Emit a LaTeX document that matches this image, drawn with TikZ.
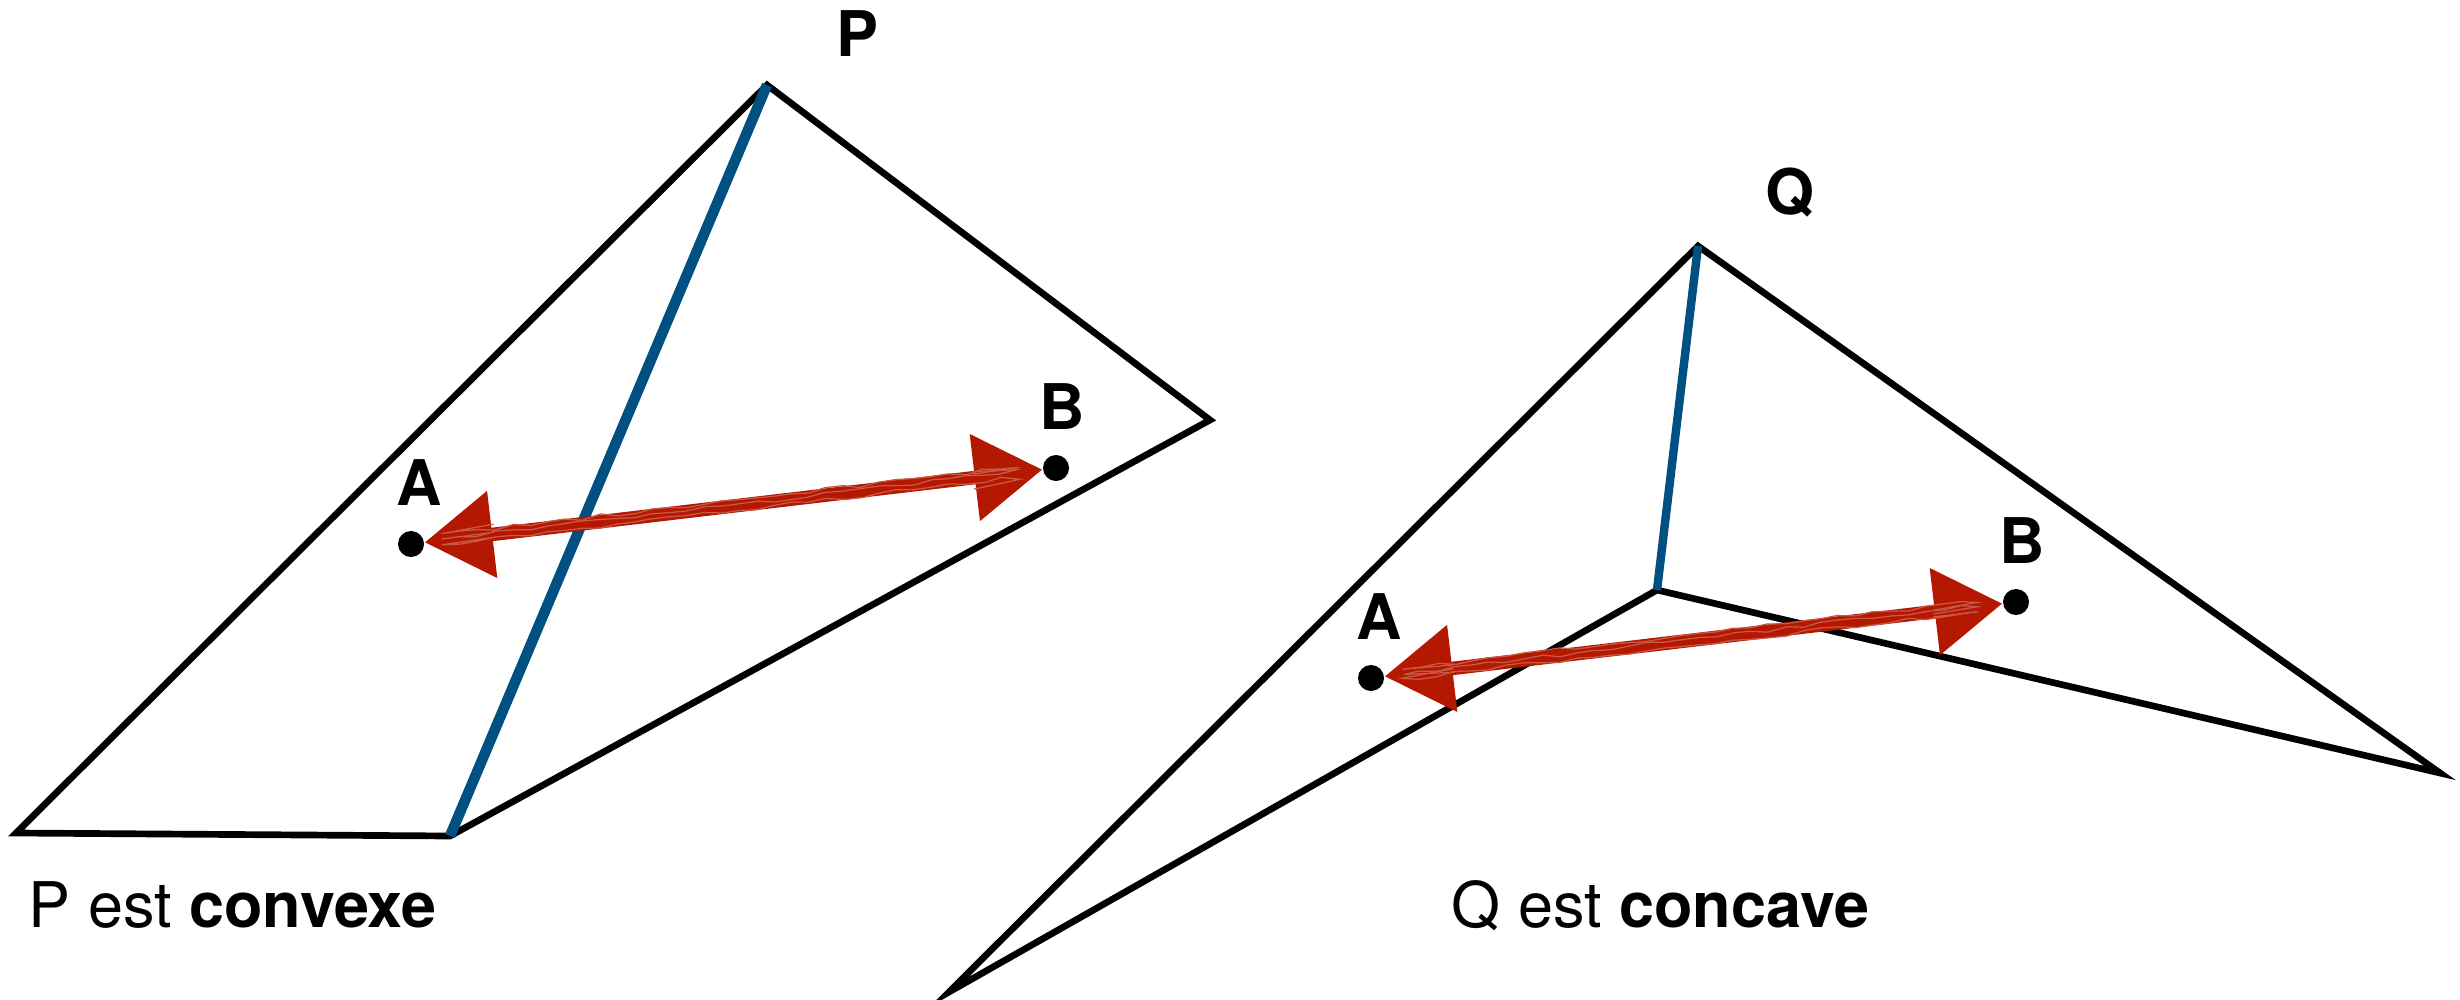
\documentclass[tikz,border=0pt]{standalone}
\usepackage{fontspec}
\setmainfont{TeX Gyre Heros}
\usetikzlibrary{arrows.meta,positioning,calc,decorations.pathmorphing}
\definecolor{diagblue}{RGB}{0,80,130}
\definecolor{sketchred}{RGB}{180,24,0}

\begin{document}
\begin{tikzpicture}[
  x=0.01cm, y=-0.01cm,
  font=\fontsize{17.9}{21}\selectfont,
  edge/.style={draw=black,line width=1.9pt},
  diag/.style={draw=diagblue,line width=3pt},
  dot/.style={circle,fill=black,inner sep=0pt,minimum size=2.6mm},
  ptname/.style={inner sep=0pt,font=\fontsize{17.9}{21}\selectfont\bfseries},
  arr/.style={draw=sketchred,fill=sketchred,line width=1.35mm,
    {Triangle[length=6.8mm,width=8.4mm]}-{Triangle[length=6.8mm,width=8.4mm]}},
  scribble/.style={draw=sketchred!72!white,line width=0.35pt,shorten <=7mm,shorten >=7mm,
    decorate,decoration={random steps,segment length=5pt,amplitude=0.6pt}}
]
  % picture is 2460 x 1000 units, y grows downwards
  \useasboundingbox (0,0) rectangle (2460,1000);
  \pgfmathsetseed{7}

  % convex polygon P
  \coordinate (Ptop) at (767,85);
  \coordinate (Pleft) at (16,833);
  \coordinate (Pbot) at (450,836);
  \coordinate (Pright) at (1210,420);
  \draw[edge] (Pleft) -- (Pbot) -- (Pright) -- (Ptop) -- cycle;
  \draw[diag] (Ptop) -- (Pbot);

  % concave polygon Q
  \coordinate (Qtop) at (1698,246);
  \coordinate (Qleft) at (949,992);
  \coordinate (Qin) at (1657,590);
  \coordinate (Qright) at (2440,773);
  \draw[edge] (Qleft) -- (Qin) -- (Qright) -- (Qtop) -- cycle;
  \draw[diag,line width=2.4pt] (Qtop) -- (Qin);

  \node[ptname,anchor=base] (nP) at ($(Ptop)+(90,-28)$) {P};
  \node[ptname,anchor=base] (nQ) at ($(Qtop)+(92,-32)$) {Q};

  \node[dot] (pA) at (411,544) {};
  \node[dot] (pB) at (1056,468) {};
  \node[dot] (qA) at (1371,678) {};
  \node[dot] (qB) at (2016,602) {};

  \node[ptname,above=2.4mm of pA,xshift=0.8mm] (lpA) {A};
  \node[ptname,above=2.4mm of pB,xshift=0.6mm] (lpB) {B};
  \node[ptname,above=2.4mm of qA,xshift=0.8mm] (lqA) {A};
  \node[ptname,above=2.4mm of qB,xshift=0.6mm] (lqB) {B};

  \draw[arr] (pA) -- (pB);
  \draw[arr] (qA) -- (qB);
  \foreach \s in {-1.4,0.3,1.6} {
    \draw[scribble,transform canvas={yshift=\s pt}] (pA) -- (pB);
    \draw[scribble,transform canvas={yshift=\s pt}] (qA) -- (qB);
  }

  \node[anchor=base west,inner sep=0pt] (capP) at (28,927) {P est \textbf{convexe}};
  \node[anchor=base west,inner sep=0pt] (capQ) at (1451,927) {Q est \textbf{concave}};
\end{tikzpicture}
\end{document}
